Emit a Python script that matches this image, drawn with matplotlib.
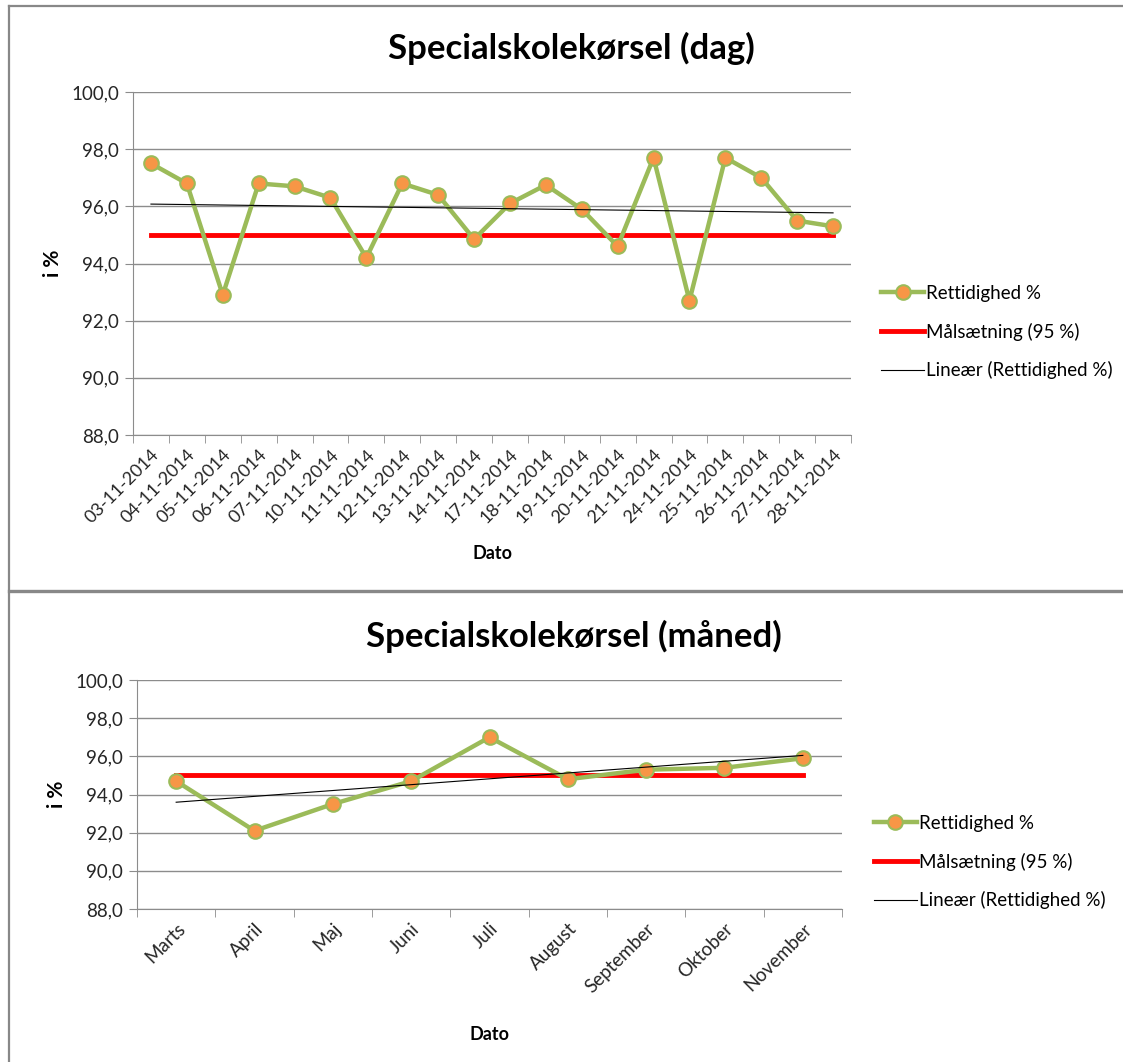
import numpy as np
import matplotlib
matplotlib.use('Agg')
import matplotlib.pyplot as plt
from matplotlib.lines import Line2D

plt.rcParams['font.family'] = ['Lato', 'DejaVu Sans']

# Data: daily values (November 2014)
dag_labels = ['03-11-2014', '04-11-2014', '05-11-2014', '06-11-2014', '07-11-2014',
              '10-11-2014', '11-11-2014', '12-11-2014', '13-11-2014', '14-11-2014',
              '17-11-2014', '18-11-2014', '19-11-2014', '20-11-2014', '21-11-2014',
              '24-11-2014', '25-11-2014', '26-11-2014', '27-11-2014', '28-11-2014']
dag_values = [97.5, 96.8, 92.9, 96.8, 96.7, 96.3, 94.2, 96.8, 96.4, 94.85,
              96.1, 96.75, 95.9, 94.6, 97.7, 92.7, 97.7, 97.0, 95.5, 95.3]

# Data: monthly values
maaned_labels = ['Marts', 'April', 'Maj', 'Juni', 'Juli', 'August',
                 'September', 'Oktober', 'November']
maaned_values = [94.7, 92.1, 93.5, 94.7, 97.0, 94.8, 95.3, 95.4, 95.9]

target = 95.0

green = '#9bbb59'
orange = '#f79646'
red = '#ff0000'
txt_col = '#262626'

fig = plt.figure(figsize=(11.23, 10.62), dpi=100)

# chart borders (Excel-style frames)
border_col = '#888888'
fig.add_artist(Line2D([9/1123, 9/1123], [0, 1 - 6/1062], color=border_col, lw=1.6))
fig.add_artist(Line2D([9/1123, 1], [1 - 6/1062, 1 - 6/1062], color=border_col, lw=1.6))
fig.add_artist(Line2D([9/1123, 1], [1 - 591/1062, 1 - 591/1062], color=border_col, lw=2.4))


def draw_chart(ax, labels, values, title, rot_fs, title_x):
    x = np.arange(len(values))
    # linear trend like Excel
    k, m = np.polyfit(x, values, 1)
    ax.plot(x, values, color=green, lw=3.2, marker='o', markersize=10.5,
            markerfacecolor=orange, markeredgecolor=green, markeredgewidth=1.5,
            zorder=4, label='Rettidighed %')
    ax.plot(x, [target] * len(x), color=red, lw=3.5, zorder=3, label='Målsætning (95 %)')
    ax.plot(x, k * x + m, color='black', lw=0.8, zorder=5, label='Lineær (Rettidighed %)')

    ax.set_xlim(-0.5, len(values) - 0.5)
    ax.set_ylim(88, 100)
    ax.set_yticks(np.arange(88, 100.1, 2))
    ax.set_yticklabels([('%.1f' % v).replace('.', ',') for v in np.arange(88, 100.1, 2)],
                       fontsize=13.5, color=txt_col)
    ax.yaxis.grid(True, color='#8c8c8c', lw=1)
    ax.set_axisbelow(True)

    ax.set_xticks(x)
    ax.set_xticklabels(labels, rotation=45, ha='right', va='top',
                       rotation_mode='anchor', fontsize=rot_fs, color=txt_col)
    ax.tick_params(axis='x', which='major', length=0, pad=8)
    ax.set_xticks(np.arange(-0.5, len(values), 1), minor=True)
    ax.tick_params(axis='x', which='minor', length=6, color='#8c8c8c')
    ax.tick_params(axis='y', length=6, color='#8c8c8c', pad=4)

    for s in ['top', 'right']:
        ax.spines[s].set_visible(False)
    ax.spines['left'].set_color('#8c8c8c')
    ax.spines['bottom'].set_color('#8c8c8c')

    ax.set_ylabel('i %', fontsize=15, fontweight='bold', labelpad=6)
    ax.set_xlabel('Dato', fontsize=13, fontweight='bold')
    ax.set_title(title, fontsize=25, fontweight='bold', pad=24, x=title_x)


# top chart: daily
ax1 = fig.add_axes([133/1123, 1 - 435/1062, 718/1123, 343/1062])
draw_chart(ax1, dag_labels, dag_values, 'Specialskolekørsel (dag)', 13, 0.611)
ax1.xaxis.labelpad = 14
leg1 = ax1.legend(loc='center left', bbox_to_anchor=(1.042, 0.3), frameon=False,
                  fontsize=13.5, handlelength=2.3, handletextpad=0.1, labelspacing=1.1,
                  borderaxespad=0, borderpad=0)

# bottom chart: monthly
ax2 = fig.add_axes([137/1123, 1 - 909/1062, 705/1123, 229/1062])
draw_chart(ax2, maaned_labels, maaned_values, 'Specialskolekørsel (måned)', 13.5, 0.62)
ax2.xaxis.labelpad = 22
leg2 = ax2.legend(loc='center left', bbox_to_anchor=(1.045, 0.205), frameon=False,
                  fontsize=13.5, handlelength=2.3, handletextpad=0.1, labelspacing=1.1,
                  borderaxespad=0, borderpad=0)

fig.savefig('out.png', dpi=100, facecolor='white')
